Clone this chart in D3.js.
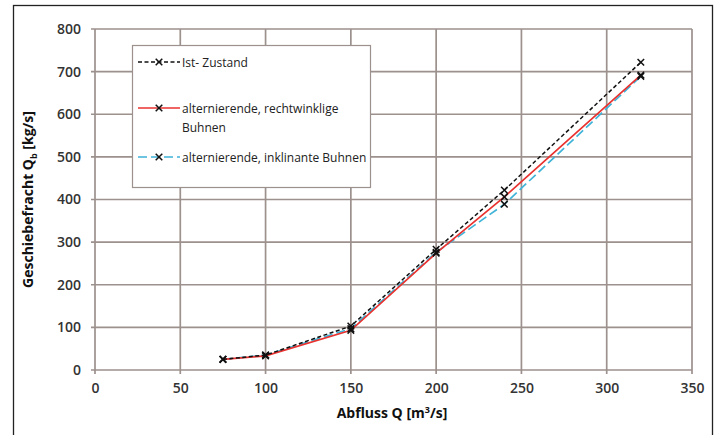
<!DOCTYPE html>
<html lang="de">
<head>
<meta charset="UTF-8">
<title>Geschiebefracht</title>
<script src="https://cdn.jsdelivr.net/npm/d3@7"></script>
<style>
  body { margin: 0; background: #fff; }
  text { font-family: "Open Sans", "Noto Sans", sans-serif; }
</style>
</head>
<body>
<svg id="chart"></svg>
<script>
// Abfluss Q [m3/s]
var abfluss = [75, 100, 150, 200, 240, 320];
// Geschiebefracht Qb [kg/s]
var istZustand = [25, 35, 103, 283, 422, 722];
var rechtwinklig = [25, 33, 93, 274, 406, 692];
var inklinant = [25, 35, 97, 276, 389, 689];

var xTicks = [0, 50, 100, 150, 200, 250, 300, 350];
var yTicks = [0, 100, 200, 300, 400, 500, 600, 700, 800];

var serien = [
  { name: "Ist- Zustand", werte: istZustand, farbe: "#111", dash: "4,2.5", breite: 1.5 },
  { name: "alternierende, rechtwinklige", name2: "Buhnen", werte: rechtwinklig, farbe: "#e8322f", dash: null, breite: 1.7 },
  { name: "alternierende, inklinante Buhnen", werte: inklinant, farbe: "#3fb3d8", dash: "9,4", breite: 1.7 }
];

var width = 718, height = 435;
var svg = d3.select("#chart").attr("width", width).attr("height", height);

// Rahmen
svg.append("rect")
  .attr("x", 13.5).attr("y", 5.5).attr("width", 699).attr("height", 440)
  .attr("fill", "#fff").attr("stroke", "#222").attr("stroke-width", 1.3);

var x = d3.scaleLinear().domain([0, 350]).range([95, 692]);
var y = d3.scaleLinear().domain([0, 800]).range([370, 29]);

var grid = svg.append("g");
grid.selectAll(".gx").data(xTicks).enter().append("line")
  .attr("x1", function(d) { return x(d); }).attr("x2", function(d) { return x(d); })
  .attr("y1", y(800)).attr("y2", y(0) + 4)
  .attr("stroke", "#9c918d").attr("stroke-width", 1.7);
grid.selectAll(".gy").data(yTicks).enter().append("line")
  .attr("x1", x(0) - 4).attr("x2", x(350))
  .attr("y1", function(d) { return y(d); }).attr("y2", function(d) { return y(d); })
  .attr("stroke", "#9c918d").attr("stroke-width", 1.7);

// Achsen-Beschriftung
var xAxis = svg.append("g").attr("transform", "translate(0," + y(0) + ")")
  .call(d3.axisBottom(x).tickValues(xTicks).tickSize(0).tickPadding(13));
var yAxis = svg.append("g").attr("transform", "translate(" + x(0) + ",0)")
  .call(d3.axisLeft(y).tickValues(yTicks).tickSize(0).tickPadding(14));
[xAxis, yAxis].forEach(function(a) {
  a.select(".domain").remove();
  a.selectAll("text").attr("font-size", 14).attr("font-weight", 600).attr("fill", "#333")
    .style("font-family", "'Open Sans', sans-serif");
});

svg.append("text")
  .attr("x", 392).attr("y", 418).attr("text-anchor", "middle")
  .attr("font-size", 14).attr("font-weight", 700).attr("fill", "#111")
  .html("Abfluss Q [m<tspan font-size='9' dy='-5'>3</tspan><tspan dy='5'>/s]</tspan>");

svg.append("text")
  .attr("transform", "translate(33," + y(400) + ") rotate(-90)")
  .attr("text-anchor", "middle")
  .attr("font-size", 14).attr("font-weight", 700).attr("fill", "#111")
  .html("Geschiebefracht Q<tspan font-size='9' dy='4'>b</tspan><tspan dy='-4'> [kg/s]</tspan>");

// Linien
var line = d3.line()
  .x(function(d, i) { return x(abfluss[i]); })
  .y(function(d) { return y(d); });

var cross = d3.symbol().type(d3.symbolX).size(30);

var order = [2, 1, 0];
order.forEach(function(k) {
  var s = serien[k];
  svg.append("path").datum(s.werte)
    .attr("d", line).attr("fill", "none")
    .attr("stroke", s.farbe).attr("stroke-width", s.breite)
    .attr("stroke-dasharray", s.dash);
});
serien.forEach(function(s) {
  svg.selectAll(null).data(s.werte).enter().append("path")
    .attr("d", cross)
    .attr("transform", function(d, i) { return "translate(" + x(abfluss[i]) + "," + y(d) + ")"; })
    .attr("fill", "none").attr("stroke", "#111").attr("stroke-width", 1.5);
});

// Legende
var leg = svg.append("g");
leg.append("rect")
  .attr("x", 132.5).attr("y", 45.5).attr("width", 238).attr("height", 142)
  .attr("fill", "#fff").attr("stroke", "#9c918d").attr("stroke-width", 1.2);

var legY = [62, 108, 157];
serien.forEach(function(s, i) {
  var g = leg.append("g").attr("transform", "translate(0," + legY[i] + ")");
  g.append("line").attr("x1", 138).attr("x2", 180).attr("y1", 0).attr("y2", 0)
    .attr("stroke", s.farbe).attr("stroke-width", s.breite).attr("stroke-dasharray", s.dash);
  g.append("path").attr("d", cross).attr("transform", "translate(159,0)")
    .attr("fill", "none").attr("stroke", "#111").attr("stroke-width", 1.5);
  g.append("text").attr("x", 182).attr("y", 4.5)
    .attr("font-size", 12).attr("fill", "#222").text(s.name);
  if (s.name2) {
    g.append("text").attr("x", 182).attr("y", 23.5)
      .attr("font-size", 12).attr("fill", "#222").text(s.name2);
  }
});
</script>
</body>
</html>
